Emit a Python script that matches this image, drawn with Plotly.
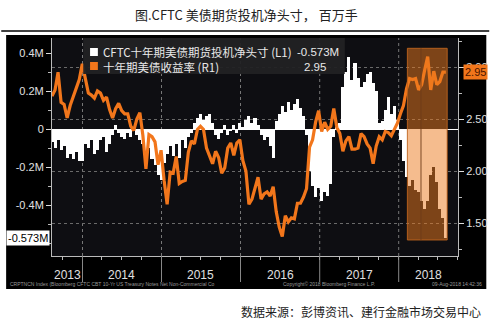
import pandas as pd
import plotly.graph_objects as go

# ---------------- data ----------------
start_date = "2013-08-13"
n_points = 131
cftc_net = [
    -0.07, -0.10, -0.06, -0.11, -0.09, -0.15, -0.13, -0.16, -0.12, -0.17,
    -0.17, -0.08, -0.10, -0.06, -0.13, -0.11, -0.06, -0.04, -0.12, -0.08,
    -0.03, 0.02, -0.02, -0.04, -0.05, -0.02, -0.04, 0.01, -0.03, -0.06,
    -0.08, -0.13, -0.10, -0.16, -0.19, -0.24, -0.27, -0.18, -0.13, -0.09,
    -0.14, -0.08, -0.15, -0.06, -0.10, -0.04, -0.02, 0.03, 0.06, 0.08,
    0.05, 0.07, 0.08, 0.03, -0.03, -0.05, -0.02, 0.02, -0.03, -0.01,
    0.02, -0.02, 0.03, 0.01, 0.05, 0.07, 0.03, 0.06, 0.02, -0.03,
    -0.06, -0.04, -0.09, -0.15, 0.04, 0.08, 0.12, 0.09, 0.14, 0.10,
    0.13, 0.16, 0.11, 0.07, -0.03, -0.22, -0.30, -0.36, -0.31, -0.38,
    -0.33, -0.35, -0.29, -0.04, 0.01, 0.03, 0.22, 0.30, 0.38, 0.26,
    0.35, 0.27, 0.22, 0.25, 0.29, 0.30, 0.24, 0.20, 0.03, 0.04,
    0.10, 0.17, 0.08, 0.12, 0.05, -0.06, -0.17, -0.25, -0.30, -0.27,
    -0.32, -0.33, -0.38, -0.42, -0.38, -0.24, -0.20, -0.28, -0.42, -0.47, -0.573,
]
ust10y = [
    2.72, 2.78, 2.95, 2.66, 2.64, 2.51, 2.63, 2.71, 2.79, 2.88,
    3.03, 2.87, 2.75, 2.73, 2.70, 2.77, 2.75, 2.68, 2.71, 2.59,
    2.51, 2.60, 2.65, 2.58, 2.55, 2.55, 2.43, 2.39, 2.50, 2.56,
    2.34, 2.02, 2.35, 2.33, 2.28, 2.06, 2.20, 1.91, 1.68, 1.99,
    1.98, 2.14, 1.88, 1.90, 1.91, 2.18, 2.29, 2.26, 2.40, 2.43,
    2.40, 2.22, 2.14, 2.07, 2.19, 2.13, 1.98, 2.03, 2.22, 2.27,
    2.15, 2.27, 2.30, 2.10, 2.00, 1.68, 1.73, 1.83, 1.94, 1.73,
    1.78, 1.80, 1.76, 1.85, 1.61, 1.46, 1.37, 1.57, 1.51, 1.55,
    1.54, 1.69, 1.69, 1.75, 1.83, 2.23, 2.30, 2.47, 2.58, 2.38,
    2.47, 2.40, 2.43, 2.60, 2.42, 2.36, 2.19, 2.29, 2.33, 2.21,
    2.21, 2.22, 2.36, 2.33, 2.26, 2.22, 2.07, 2.24, 2.33, 2.30,
    2.38, 2.37, 2.34, 2.40, 2.46, 2.55, 2.63, 2.79, 2.89, 2.88,
    2.89, 2.78, 2.83, 2.97, 3.10, 2.78, 2.96, 2.83, 2.86, 2.95, 2.95,
]
years = ["2013", "2014", "2015", "2016", "2017", "2018"]
left_ticks = [-0.4, -0.2, 0, 0.2, 0.4]
left_ticktext = ["-0.4M", "-0.2M", "0", "0.2M", "0.4M"]
right_ticks = [1.5, 2.0, 2.5, 3.0]
last_cftc_label = "-0.573M"
last_yield_label = "2.95"
series1_name = "CFTC十年期美债期货投机净头寸 (L1)"
series2_name = "十年期美债收益率 (R1)"
title_text = "图.CFTC 美债期货投机净头寸， 百万手"
source_text = "数据来源：彭博资讯、建行金融市场交易中心"

dates = pd.date_range(start_date, periods=n_points, freq="14D")
x_range = ["2013-08-13", "2018-10-02"]

ORANGE = "#F2761B"
FONT = "Liberation Sans, Arial, sans-serif"
CJK = "Noto Sans CJK SC, sans-serif"

fig = go.Figure()
fig.add_trace(go.Bar(
    x=dates, y=cftc_net, marker=dict(color="white", line=dict(width=0)),
    width=14 * 86400000, yaxis="y", name=series1_name, showlegend=False,
))
fig.add_trace(go.Scatter(
    x=dates, y=ust10y, mode="lines", line=dict(color=ORANGE, width=3.2),
    yaxis="y2", name=series2_name, showlegend=False,
))

L, R, T, B = 52, 32, 38, 75
W, H = 500, 331
pw, ph = W - L - R, H - T - B


def px(xp):
    return (xp - L) / pw


def py(yp):
    return (H - B - yp) / ph


shapes = []
# black panel and dark plot area
shapes.append(dict(type="rect", xref="paper", yref="paper", x0=px(5), x1=px(497),
                   y0=py(289), y1=py(35), fillcolor="black", line=dict(width=0), layer="below"))
shapes.append(dict(type="rect", xref="paper", yref="paper", x0=0, x1=1, y0=0, y1=1,
                   fillcolor="#0e0e12", line=dict(width=0), layer="below"))
# title underline
shapes.append(dict(type="line", xref="paper", yref="paper", x0=px(0), x1=px(500),
                   y0=py(31), y1=py(31), line=dict(color="black", width=1.5)))
# year boundaries
for yv in years[1:]:
    d = f"{yv}-01-01"
    shapes.append(dict(type="line", xref="x", yref="paper", x0=d, x1=d, y0=0, y1=1,
                       line=dict(color="#777", width=1, dash="dot"), layer="below"))
    shapes.append(dict(type="line", xref="x", yref="paper", x0=d, x1=d, y0=py(282), y1=0,
                       line=dict(color="#888", width=1)))
# highlight box 2018
shapes.append(dict(type="rect", xref="x", yref="y2", x0="2018-02-10", x1="2018-08-13",
                   y0=1.337, y1=3.18, fillcolor="rgba(236,122,30,0.5)",
                   line=dict(color="rgba(190,100,30,0.9)", width=1), layer="above"))
shapes.append(dict(type="line", xref="x", yref="y2", x0="2018-04-14", x1="2018-04-14",
                   y0=1.337, y1=3.18, line=dict(color="rgba(110,60,25,0.9)", width=1), layer="above"))
# legend box
shapes.append(dict(type="rect", xref="paper", yref="paper", x0=px(84), x1=px(352),
                   y0=py(74), y1=py(38), fillcolor="rgba(34,34,36,0.95)",
                   line=dict(width=0), layer="above"))
shapes.append(dict(type="rect", xref="paper", yref="paper", x0=px(91), x1=px(99),
                   y0=py(56), y1=py(48), fillcolor="white", line=dict(width=0), layer="above"))
shapes.append(dict(type="rect", xref="paper", yref="paper", x0=px(91), x1=px(99),
                   y0=py(70), y1=py(62), fillcolor=ORANGE, line=dict(width=0), layer="above"))

ann = []
ann.append(dict(text=title_text, xref="paper", yref="paper", x=px(251), y=py(14),
                showarrow=False, font=dict(family=CJK, size=13, color="#222"),
                xanchor="center", yanchor="middle"))
ann.append(dict(text=source_text, xref="paper", yref="paper", x=px(494), y=py(311),
                showarrow=False, font=dict(family=CJK, size=12, color="#222"),
                xanchor="right", yanchor="middle"))
# legend texts (two lines in one block)
ann.append(dict(text=series1_name + "<br>" + series2_name, xref="paper", yref="paper",
                x=px(102), y=py(59), showarrow=False, align="left",
                font=dict(family=CJK, size=11.5, color="#e8e8e8"),
                xanchor="left", yanchor="middle"))
ann.append(dict(text=last_cftc_label + "<br>" + last_yield_label + "\u00a0\u00a0\u00a0\u00a0",
                xref="paper", yref="paper", x=px(348), y=py(59), showarrow=False, align="right",
                font=dict(family=FONT, size=11.5, color="#e8e8e8"),
                xanchor="right", yanchor="middle"))
# value boxes on axes
ann.append(dict(text=last_cftc_label, xref="paper", yref="y", x=0, y=cftc_net[-1],
                xanchor="right", yanchor="middle", xshift=-2, showarrow=False,
                bgcolor="white", borderpad=1, font=dict(family=FONT, size=11, color="black")))
ann.append(dict(text=last_yield_label, xref="paper", yref="y2", x=1, y=ust10y[-1],
                xanchor="left", yanchor="middle", xshift=5, showarrow=False,
                bgcolor=ORANGE, borderpad=1, font=dict(family=FONT, size=11, color="#4a1500")))
# year labels
year_pos = ["2013-10-22", "2014-07-02", "2015-07-02", "2016-07-02", "2017-07-02", "2018-05-17"]
for yv, xp in zip(years, year_pos):
    ann.append(dict(text=yv, xref="x", yref="paper", x=xp, y=py(275),
                    showarrow=False, font=dict(family=FONT, size=12, color="#e0e0e0"),
                    xanchor="center", yanchor="middle"))
# footer
foot = dict(showarrow=False, xref="paper", yref="paper", y=py(284), yanchor="middle",
            font=dict(family=FONT, size=5, color="#9a9a9a"))
ann.append(dict(text="CRPTNCN Index (Bloomberg CFTC CBT 10-Yr US Treasury Notes Net Non-Commercial Co",
                x=px(7), xanchor="left", **foot))
ann.append(dict(text="Copyright\u00a9 2018 Bloomberg Finance L.P.", x=px(287), xanchor="left", **foot))
ann.append(dict(text="09-Aug-2018 14:42:36", x=px(495), xanchor="right", **foot))

fig.update_layout(
    width=W, height=H,
    margin=dict(l=L, r=R, t=T, b=B, pad=0),
    paper_bgcolor="white", plot_bgcolor="#0e0e12",
    bargap=0, showlegend=False,
    shapes=shapes, annotations=ann,
    xaxis=dict(type="date", range=x_range, showgrid=False, zeroline=False,
               showline=True, linecolor="#bbb", linewidth=1,
               tickvals=pd.date_range("2013-10-01", "2018-10-01", freq="QS"),
               ticktext=[""] * 21, ticks="outside", ticklen=3, tickcolor="#bbb"),
    yaxis=dict(range=[-0.668, 0.479], tickvals=left_ticks, ticktext=left_ticktext,
               showgrid=False, zeroline=True, zerolinecolor="white", zerolinewidth=1,
               showline=True, linecolor="#bbb", linewidth=1,
               ticks="outside", ticklen=5, tickcolor="#ddd",
               tickfont=dict(family=FONT, size=11, color="#e0e0e0"),
               minor=dict(dtick=0.1, tick0=0, ticks="outside", ticklen=3, tickcolor="#bbb")),
    yaxis2=dict(range=[1.183, 3.279], overlaying="y", side="right",
                tickvals=right_ticks, ticktext=[f"{v:.2f}" for v in right_ticks],
                showgrid=True, gridcolor="#6a6a6a", griddash="dot", gridwidth=1,
                zeroline=False, showline=True, linecolor="#bbb", linewidth=1,
                ticks="outside", ticklen=5, tickcolor="#ddd",
                tickfont=dict(family=FONT, size=11, color="#e0e0e0"),
                minor=dict(dtick=0.25, tick0=0, ticks="outside", ticklen=3, tickcolor="#bbb")),
)

fig.write_html("out.html")
